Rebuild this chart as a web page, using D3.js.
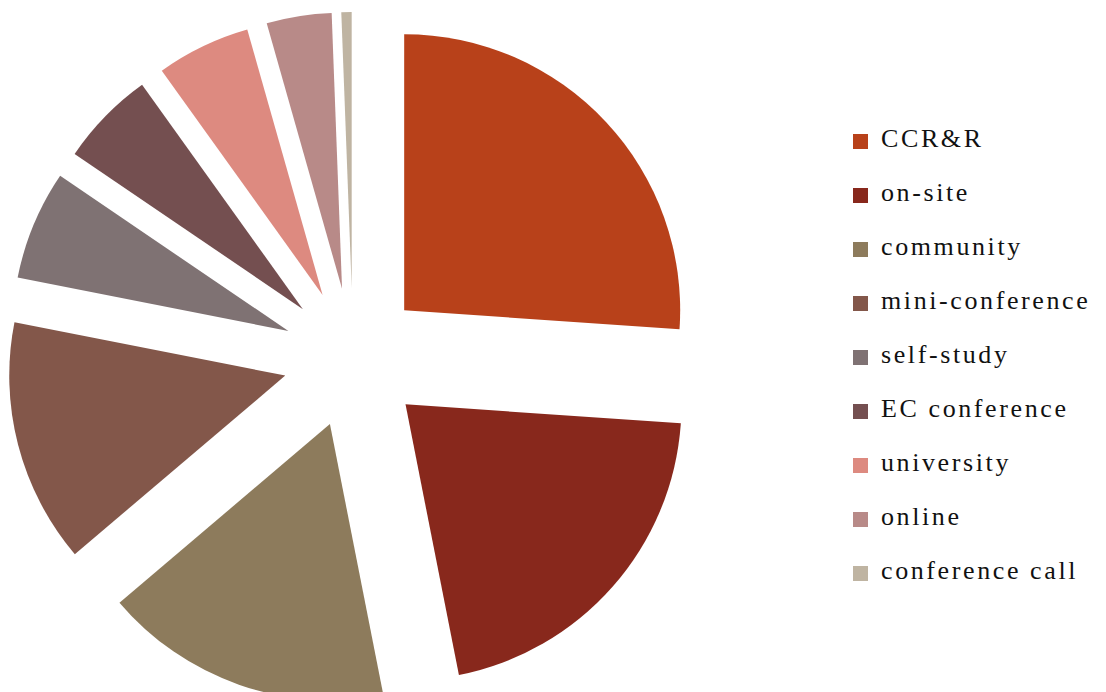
<!DOCTYPE html>
<html>
<head>
<meta charset="utf-8">
<script src="https://cdn.jsdelivr.net/npm/d3@7"></script>
<style>
  html, body { margin: 0; padding: 0; background: #fff; }
  svg { display: block; }
</style>
</head>
<body>
<svg id="chart" width="1106" height="692"></svg>
<script>
// Share of training by delivery type (percent)
const categories = ["CCR&R", "on-site", "community", "mini-conference", "self-study",
                    "EC conference", "university", "online", "conference call"];
const values = [26.1, 20.8, 16.9, 14.3, 6.4, 5.6, 5.5, 3.8, 0.6];
const colors = ["#B8411A", "#88281C", "#8D7B5C", "#83574A", "#7F7273",
                "#744F50", "#DD8A80", "#B88A88", "#BFB4A2"];

const svg = d3.select("#chart");
const cx = 353, cy = 358, radius = 276, explode = 70;

const pie = d3.pie().sort(null).value(d => d.value);
const arc = d3.arc().innerRadius(0).outerRadius(radius);

const data = categories.map((c, i) => ({ name: c, value: values[i], color: colors[i] }));

const g = svg.append("g").attr("transform", `translate(${cx},${cy})`);
g.selectAll("path.slice")
  .data(pie(data))
  .join("path")
  .attr("class", "slice")
  .attr("fill", d => d.data.color)
  .attr("d", arc)
  .attr("transform", d => {
    const mid = (d.startAngle + d.endAngle) / 2;
    return `translate(${Math.sin(mid) * explode},${-Math.cos(mid) * explode})`;
  });

// Legend
const legend = svg.append("g").attr("transform", "translate(853,147)");
const rows = legend.selectAll("g.item")
  .data(data)
  .join("g")
  .attr("class", "item")
  .attr("transform", (d, i) => `translate(0,${i * 54})`);

rows.append("rect")
  .attr("x", 0).attr("y", -13)
  .attr("width", 15).attr("height", 15)
  .attr("fill", d => d.color);

rows.append("text")
  .attr("x", 28).attr("y", 0)
  .attr("font-family", "'Liberation Serif', serif")
  .attr("font-size", 26)
  .attr("letter-spacing", 2.6)
  .attr("fill", "#111")
  .text(d => d.name);
</script>
</body>
</html>
